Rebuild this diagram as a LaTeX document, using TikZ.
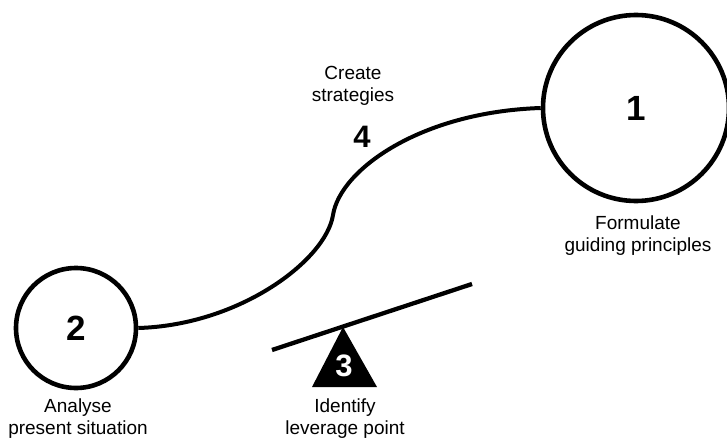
\documentclass[tikz,border=0pt]{standalone}
\usepackage{fontspec}
\setmainfont{Liberation Sans}
\begin{document}
\begin{tikzpicture}[x=1pt,y=-1pt,
  ring/.style={circle,draw,line width=4.6pt,inner sep=0pt},
  lbl/.style={align=center,font=\fontsize{19}{22}\selectfont},
  bignum/.style={font=\fontsize{35}{35}\selectfont\bfseries},
  midnum/.style={font=\fontsize{31}{31}\selectfont\bfseries}]
\useasboundingbox (0,0) rectangle (727,441);
\begin{scope}
\clip (0,0) rectangle (727,441);
% stage circles
\node[ring,minimum size=186pt] (c1) at (636,108) {};
\node[ring,minimum size=120pt] (c2) at (76,328) {};
\end{scope}
\node[bignum] (n1) at (c1.center) {1};
\node[bignum] (n2) at (c2.center) {2};
% connecting path between the two stages
\coordinate (mid) at (333,215);
\draw[line width=4pt] (c2.east) .. controls (240,325) and (326,260) .. (mid)
      .. controls (340,170) and (420,112) .. (c1.west);
\node[midnum] (n4) at (362,137) {4};
% lever and fulcrum
\coordinate (la) at (272,350);
\coordinate (lb) at (472,284);
\draw[line width=4.3pt] (la) -- (lb);
\coordinate (apex) at (343,327);
\coordinate (bl) at (312,387);
\coordinate (br) at (377,387);
\fill (apex) -- (br) -- (bl) -- cycle;
\node[midnum,text=white] (n3) at (344,366) {3};
% captions
\node[lbl] (t1) at (638,236) {Formulate\\guiding principles};
\node[lbl] (t2) at (78,419) {Analyse\\present situation};
\node[lbl] (t3) at (345,419) {Identify\\leverage point};
\node[lbl] (t4) at (353,86) {Create\\strategies};
\end{tikzpicture}
\end{document}
